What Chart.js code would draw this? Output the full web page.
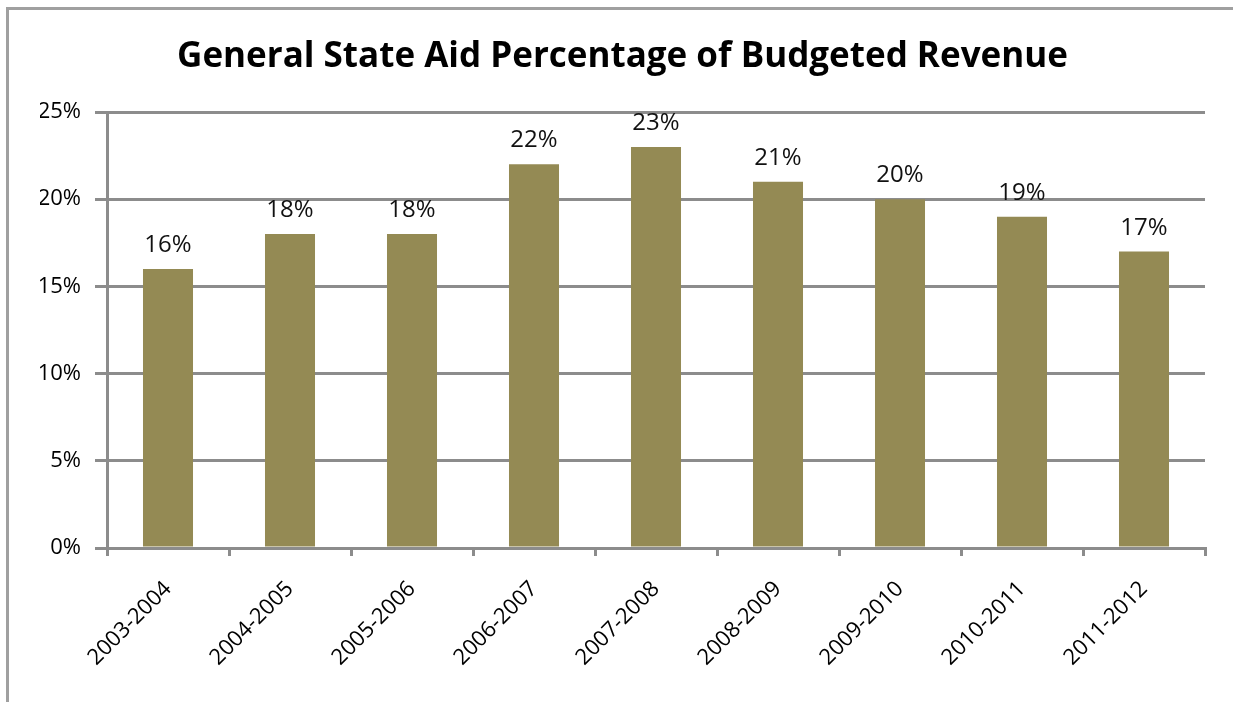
<!DOCTYPE html>
<html>
<head>
<meta charset="utf-8">
<title>General State Aid Percentage of Budgeted Revenue</title>
<script src="https://cdn.jsdelivr.net/npm/chart.js@4/dist/chart.umd.min.js"></script>
<style>
  html, body { margin: 0; padding: 0; background: #fff; overflow: hidden; }
  #wrap { width: 1233px; height: 702px; }
</style>
</head>
<body>
<div id="wrap"><canvas id="barChart1" width="1233" height="702"></canvas></div>
<script>
// Fiscal years and state aid share of budgeted revenue (%)
const years = ["2003-2004", "2004-2005", "2005-2006", "2006-2007", "2007-2008",
               "2008-2009", "2009-2010", "2010-2011", "2011-2012"];
const aidPercent = [16, 18, 18, 22, 23, 21, 20, 19, 17];
const yTicks = [0, 5, 10, 15, 20, 25];

const gridGray = "#8c8c8c";
const fontFamily = "'Open Sans', Lato, sans-serif";

// Outer frame around the chart
const framePlugin = {
  id: "frame",
  beforeDraw(chart) {
    const c = chart.ctx;
    c.save();
    c.fillStyle = "#fff";
    c.fillRect(0, 0, chart.width, chart.height);
    c.strokeStyle = "#a0a0a0";
    c.lineWidth = 3;
    c.beginPath();
    c.moveTo(7.5, chart.height + 10);
    c.lineTo(7.5, 8.5);
    c.lineTo(chart.width + 10, 8.5);
    c.stroke();
    c.restore();
  }
};

// Percent labels above each bar
const valueLabels = {
  id: "valueLabels",
  afterDatasetsDraw(chart) {
    const c = chart.ctx;
    const meta = chart.getDatasetMeta(0);
    c.save();
    c.font = "24px " + fontFamily;
    c.fillStyle = "#111";
    c.textAlign = "center";
    c.textBaseline = "alphabetic";
    meta.data.forEach((bar, i) => {
      c.fillText(aidPercent[i] + "%", bar.x, bar.y - 17);
    });
    c.restore();
  }
};

var ctx = document.getElementById("barChart1").getContext("2d");

var barChart = new Chart(ctx, {
  type: "bar",
  data: {
    labels: years,
    datasets: [
      {
        label: "General State Aid",
        data: aidPercent,
        backgroundColor: "#948a54",
        barPercentage: 0.41,
        categoryPercentage: 1.0,
      }
    ],
  },
  options: {
    responsive: false,
    animation: false,
    // left padding keeps the title centred inside the frame
    layout: { padding: { left: 40, right: 28, top: 0, bottom: 0 } },
    plugins: {
      legend: { display: false },
      tooltip: { enabled: false },
      title: {
        display: true,
        text: "General State Aid Percentage of Budgeted Revenue",
        color: "#000",
        font: { family: fontFamily, size: 35, weight: "bold", lineHeight: 1.2 },
        padding: { top: 36, bottom: 34 },
      },
    },
    scales: {
      x: {
        grid: {
          display: true,
          drawOnChartArea: false,
          drawTicks: true,
          tickLength: 8,
          color: gridGray,
          lineWidth: 3,
          offset: true,
        },
        border: { display: true, color: gridGray, width: 3 },
        ticks: {
          autoSkip: false,
          minRotation: 45,
          maxRotation: 45,
          padding: 20,
          color: "#000",
          font: { family: fontFamily, size: 22 },
        },
        afterFit(scale) { scale.height = 154; },
      },
      y: {
        min: 0,
        max: 25,
        afterBuildTicks(scale) {
          scale.ticks = yTicks.map((v) => ({ value: v }));
        },
        grid: {
          color: gridGray,
          lineWidth: 3,
          drawTicks: true,
          tickLength: 12,
        },
        border: { display: true, color: gridGray, width: 3 },
        ticks: {
          callback: (v) => v + "%",
          padding: 14,
          color: "#000",
          font: { family: fontFamily, size: 22 },
        },
        afterFit(scale) { scale.width = 67; },
      },
    },
  },
  plugins: [framePlugin, valueLabels],
});
</script>
</body>
</html>
